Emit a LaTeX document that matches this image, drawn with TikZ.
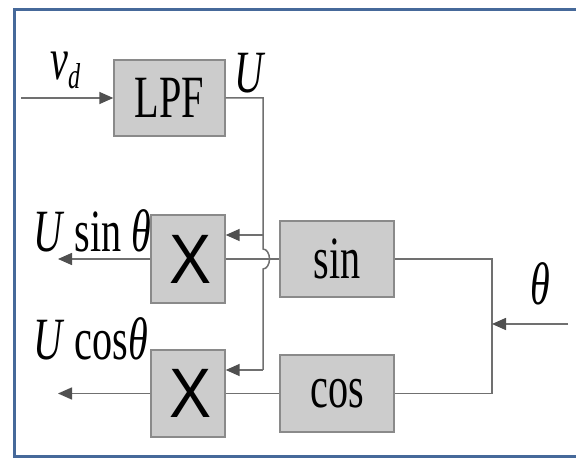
\documentclass[tikz,border=0pt]{standalone}
\usepackage{fontspec}
\setmainfont{Liberation Serif}
\newfontfamily\xfont{Liberation Sans}
\usetikzlibrary{arrows.meta,calc}
\newcommand{\nar}[1]{\scalebox{0.67}[1]{#1}}
\newcommand{\mulx}{\xfont\fontsize{70}{70}\selectfont\raisebox{-3pt}{\hspace{6pt}\scalebox{0.9}[1]{X}}}
\definecolor{boxfill}{HTML}{CCCCCC}
\definecolor{boxline}{HTML}{8A8A8A}
\definecolor{wire}{HTML}{707070}
\definecolor{tipcol}{HTML}{505050}
\definecolor{frameblue}{HTML}{46699A}
\begin{document}
\begin{tikzpicture}[x=1pt,y=1pt,
  blk/.style={draw=boxline, fill=boxfill, line width=1.4pt, inner sep=0pt,
    font=\fontsize{60}{60}\selectfont},
  wireline/.style={draw=wire, line width=1.5pt},
  arr/.style={wireline, -{Triangle[length=14pt,width=12pt,color=tipcol]}},
  lbl/.style={inner sep=0pt, font=\fontsize{60}{60}\selectfont}
]
\useasboundingbox (0,0) rectangle (576,-462);
\fill[white] (0,0) rectangle (576,-462);
\draw[frameblue, line width=2.5pt] (590,-9.5) -- (14.5,-9.5) -- (14.5,-456.5) -- (590,-456.5);

% blocks
\node[blk, minimum width=111pt, minimum height=76pt] (lpf) at (169.5,-98) {\nar{LPF}};
\node[blk, minimum width=74pt, minimum height=88pt] (m1) at (188,-259) {\mulx};
\node[blk, minimum width=74pt, minimum height=87pt] (m2) at (188,-393.5) {\mulx};
\node[blk, minimum width=114pt, minimum height=76pt] (sin) at (337,-259) {\nar{sin}};
\node[blk, minimum width=114pt, minimum height=77pt] (cos) at (337,-393.5) {\nar{cos}};

% coordinates
\coordinate (vin) at (21,-98);
\coordinate (ucorner) at (263,-98);
\coordinate (hopa) at (263,-249);
\coordinate (br1) at (263,-235);
\coordinate (br2) at (263,-370);
\coordinate (o1) at (58,-259);
\coordinate (o2) at (58,-393.5);
\coordinate (rtop) at (492,-259);
\coordinate (rbot) at (492,-393.5);
\coordinate (rmid) at (492,-324);
\coordinate (thin) at (568,-324);

% wires
\draw[arr] (vin) -- (lpf.west);
\draw[wireline] (lpf.east |- ucorner) -- (ucorner) -- (hopa)
  arc[start angle=90, end angle=-90, x radius=6.5, y radius=10] -- (br2);
\draw[arr] (br1) -- (br1 -| m1.east);
\draw[arr] (br2) -- (br2 -| m2.east);
\draw[arr] (m1.west) -- (o1);
\draw[arr] (m2.west) -- (o2);
\draw[wireline] (m1.east) -- (sin.west);
\draw[wireline] (m2.east) -- (cos.west);
\draw[wireline] (sin.east) -- (rtop) -- (rbot) -- (cos.east);
\draw[arr] (thin) -- (rmid);

% labels
\node[lbl, anchor=base west] (vd) at (50,-80) {\nar{\textit{v}}\raisebox{-9pt}{\fontsize{36}{36}\selectfont\nar{\textit{d}}}};
\node[lbl, anchor=base west] (ulab) at (234,-93) {\nar{\textit{U}}};
\node[lbl, anchor=base west] (usin) at (33,-252) {\nar{\textit{U} sin \textit{θ}}};
\node[lbl, anchor=base west] (ucos) at (33,-360) {\nar{\textit{U} cos\textit{θ}}};
\node[lbl, anchor=base west] (th) at (530,-305) {\nar{\textit{θ}}};
\end{tikzpicture}
\end{document}
